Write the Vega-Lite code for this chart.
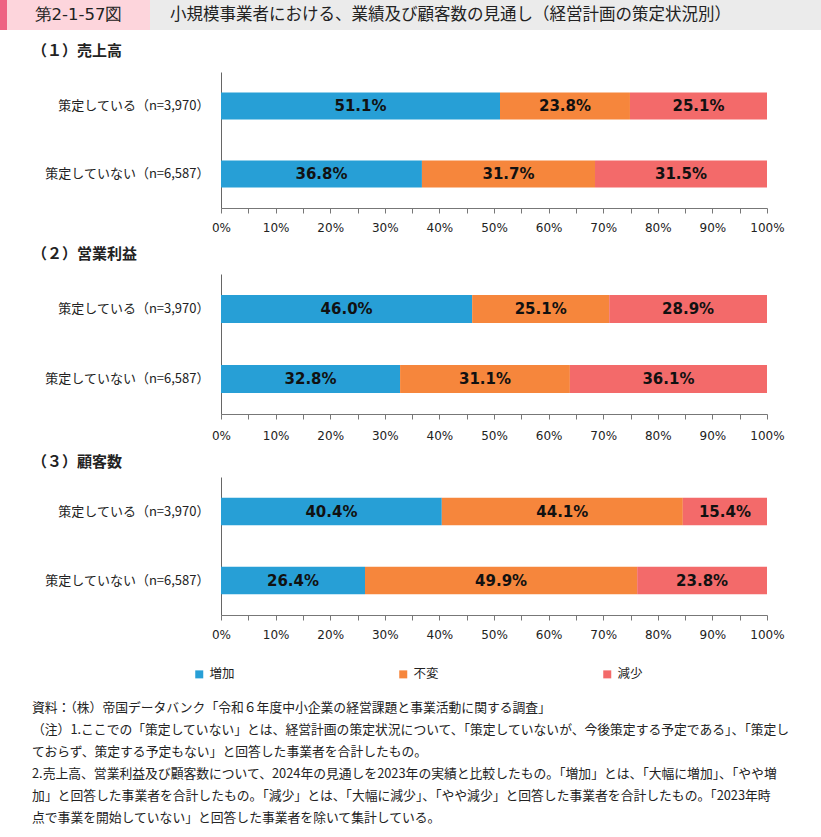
{
  "$schema": "https://vega.github.io/schema/vega-lite/v6.json",
  "padding": 0,
  "background": "white",
  "spacing": 14,
  "config": {
    "view": {"stroke": null},
    "font": "Noto Sans CJK JP",
    "axisY": {"title": null, "domainColor": "#666", "ticks": false, "labelFontSize": 13, "labelFont": "Noto Sans CJK JP", "labelColor": "#222", "labelPadding": 12, "offset": -221, "grid": false},
    "axisX": {"title": null, "format": ".0%", "values": [0, 0.1, 0.2, 0.3, 0.4, 0.5, 0.6, 0.7, 0.8, 0.9, 1], "domainColor": "#777", "tickColor": "#777", "tickSize": 5, "labelFont": "DejaVu Sans", "labelFontSize": 12, "labelColor": "#222", "labelPadding": 9, "grid": false, "labelFlush": false}
  },
  "title": {
    "text": [
      "資料：（株）帝国データバンク「令和６年度中小企業の経営課題と事業活動に関する調査」",
      "（注）1.ここでの「策定していない」とは、経営計画の策定状況について、「策定していないが、今後策定する予定である」、「策定し",
      "ておらず、策定する予定もない」と回答した事業者を合計したもの。",
      "2.売上高、営業利益及び顧客数について、2024年の見通しを2023年の実績と比較したもの。「増加」とは、「大幅に増加」、「やや増",
      "加」と回答した事業者を合計したもの。「減少」とは、「大幅に減少」、「やや減少」と回答した事業者を合計したもの。「2023年時",
      "点で事業を開始していない」と回答した事業者を除いて集計している。"
    ],
    "orient": "bottom", "anchor": "start", "frame": "bounds", "dx": 32, "offset": 21,
    "fontSize": 12.8, "fontWeight": "normal", "lineHeight": 22, "color": "#222", "font": "Noto Sans CJK JP"
  },
  "datasets": {
    "bars": [
      {"panel": "売上高", "group": "策定している（n=3,970）", "category": "増加", "k": 1, "value": 0.511},
      {"panel": "売上高", "group": "策定している（n=3,970）", "category": "不変", "k": 2, "value": 0.238},
      {"panel": "売上高", "group": "策定している（n=3,970）", "category": "減少", "k": 3, "value": 0.251},
      {"panel": "売上高", "group": "策定していない（n=6,587）", "category": "増加", "k": 1, "value": 0.368},
      {"panel": "売上高", "group": "策定していない（n=6,587）", "category": "不変", "k": 2, "value": 0.317},
      {"panel": "売上高", "group": "策定していない（n=6,587）", "category": "減少", "k": 3, "value": 0.315},
      {"panel": "営業利益", "group": "策定している（n=3,970）", "category": "増加", "k": 1, "value": 0.460},
      {"panel": "営業利益", "group": "策定している（n=3,970）", "category": "不変", "k": 2, "value": 0.251},
      {"panel": "営業利益", "group": "策定している（n=3,970）", "category": "減少", "k": 3, "value": 0.289},
      {"panel": "営業利益", "group": "策定していない（n=6,587）", "category": "増加", "k": 1, "value": 0.328},
      {"panel": "営業利益", "group": "策定していない（n=6,587）", "category": "不変", "k": 2, "value": 0.311},
      {"panel": "営業利益", "group": "策定していない（n=6,587）", "category": "減少", "k": 3, "value": 0.361},
      {"panel": "顧客数", "group": "策定している（n=3,970）", "category": "増加", "k": 1, "value": 0.404},
      {"panel": "顧客数", "group": "策定している（n=3,970）", "category": "不変", "k": 2, "value": 0.441},
      {"panel": "顧客数", "group": "策定している（n=3,970）", "category": "減少", "k": 3, "value": 0.154},
      {"panel": "顧客数", "group": "策定していない（n=6,587）", "category": "増加", "k": 1, "value": 0.264},
      {"panel": "顧客数", "group": "策定していない（n=6,587）", "category": "不変", "k": 2, "value": 0.499},
      {"panel": "顧客数", "group": "策定していない（n=6,587）", "category": "減少", "k": 3, "value": 0.238}
    ]
  },
  "vconcat": [
    {
      "spacing": 0,
      "hconcat": [
        {"width": 7, "height": 30, "view": {"fill": "#ee6383", "stroke": null}, "data": {"values": [{}]}, "mark": {"type": "text"}, "encoding": {"text": {"value": ""}}},
        {"width": 143, "height": 30, "view": {"fill": "#fdd5dc", "stroke": null}, "data": {"values": [{}]}, "mark": {"type": "text", "fontSize": 16.5, "font": "DejaVu Sans", "color": "#222", "baseline": "middle"}, "encoding": {"text": {"value": "第2-1-57図"}}},
        {"width": 671, "height": 30, "view": {"fill": "#ebebeb", "stroke": null}, "data": {"values": [{}]}, "mark": {"type": "text", "fontSize": 16.5, "color": "#222", "align": "left", "baseline": "middle", "dx": 20}, "encoding": {"text": {"value": "小規模事業者における、業績及び顧客数の見通し（経営計画の策定状況別）"}, "x": {"datum": 0, "type": "quantitative", "scale": {"domain": [0, 1]}, "axis": null}}}
      ]
    },
    {
      "width": 767, "height": 136,
      "title": {"text": "（１）売上高", "anchor": "start", "frame": "bounds", "dx": 32, "offset": 13, "fontSize": 15, "fontWeight": "bold", "color": "#222"},
      "data": {"name": "bars"},
      "transform": [{"filter": "datum.panel === '売上高'"}],
      "encoding": {
        "y": {"field": "group", "type": "nominal", "sort": ["策定している（n=3,970）", "策定していない（n=6,587）"], "scale": {"paddingInner": 0.6, "paddingOuter": 0.3}},
        "x": {"field": "value", "type": "quantitative", "stack": "normalize", "scale": {"domain": [0, 1], "range": [221, 767]}},
        "order": {"field": "k", "type": "quantitative"}
      },
      "layer": [
        {"mark": {"type": "bar"}, "encoding": {"color": {"field": "category", "type": "nominal", "scale": {"domain": ["増加", "不変", "減少"], "range": ["#279fd6", "#f6863c", "#f36a6a"]}, "legend": {"orient": "none", "legendX": 193, "legendY": 668, "direction": "horizontal", "title": null, "symbolType": "square", "symbolSize": 64, "symbolStrokeWidth": 0, "labelFontSize": 12.5, "labelFont": "Noto Sans CJK JP", "labelColor": "#222", "columnPadding": 162, "labelOffset": 4}}}},
        {"mark": {"type": "text", "font": "DejaVu Sans", "fontWeight": "bold", "fontSize": 15, "color": "#111"}, "encoding": {"x": {"field": "value", "type": "quantitative", "stack": "normalize", "bandPosition": 0.5}, "detail": {"field": "category"}, "text": {"field": "value", "type": "quantitative", "format": ".1%"}}}
      ]
    },
    {
      "width": 767, "height": 140,
      "title": {"text": "（２）営業利益", "anchor": "start", "frame": "bounds", "dx": 32, "offset": 12, "fontSize": 15, "fontWeight": "bold", "color": "#222"},
      "data": {"name": "bars"},
      "transform": [{"filter": "datum.panel === '営業利益'"}],
      "encoding": {
        "y": {"field": "group", "type": "nominal", "sort": ["策定している（n=3,970）", "策定していない（n=6,587）"], "scale": {"paddingInner": 0.6, "paddingOuter": 0.3}},
        "x": {"field": "value", "type": "quantitative", "stack": "normalize", "scale": {"domain": [0, 1], "range": [221, 767]}, "axis": {"labelPadding": 11}},
        "order": {"field": "k", "type": "quantitative"}
      },
      "layer": [
        {"mark": {"type": "bar"}, "encoding": {"color": {"field": "category", "type": "nominal"}}},
        {"mark": {"type": "text", "font": "DejaVu Sans", "fontWeight": "bold", "fontSize": 15, "color": "#111"}, "encoding": {"x": {"field": "value", "type": "quantitative", "stack": "normalize", "bandPosition": 0.5}, "detail": {"field": "category"}, "text": {"field": "value", "type": "quantitative", "format": ".1%"}}}
      ]
    },
    {
      "width": 767, "height": 138,
      "title": {"text": "（３）顧客数", "anchor": "start", "frame": "bounds", "dx": 32, "offset": 7, "fontSize": 15, "fontWeight": "bold", "color": "#222"},
      "data": {"name": "bars"},
      "transform": [{"filter": "datum.panel === '顧客数'"}],
      "encoding": {
        "y": {"field": "group", "type": "nominal", "sort": ["策定している（n=3,970）", "策定していない（n=6,587）"], "scale": {"paddingInner": 0.6, "paddingOuter": 0.3}},
        "x": {"field": "value", "type": "quantitative", "stack": "normalize", "scale": {"domain": [0, 1], "range": [221, 767]}},
        "order": {"field": "k", "type": "quantitative"}
      },
      "layer": [
        {"mark": {"type": "bar"}, "encoding": {"color": {"field": "category", "type": "nominal"}}},
        {"mark": {"type": "text", "font": "DejaVu Sans", "fontWeight": "bold", "fontSize": 15, "color": "#111"}, "encoding": {"x": {"field": "value", "type": "quantitative", "stack": "normalize", "bandPosition": 0.5}, "detail": {"field": "category"}, "text": {"field": "value", "type": "quantitative", "format": ".1%"}}}
      ]
    }
  ]
}
